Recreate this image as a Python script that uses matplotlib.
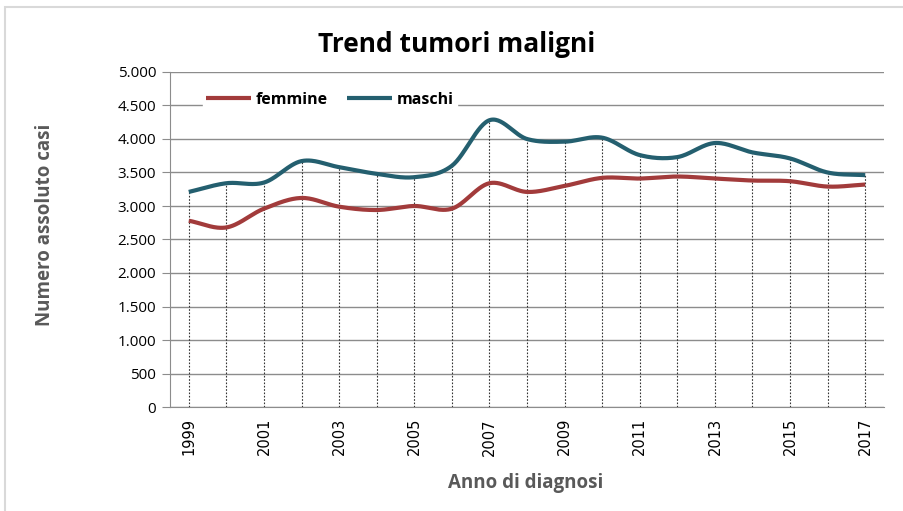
import numpy as np
import matplotlib.pyplot as plt

years = list(range(1999, 2018))
femmine = [2780, 2680, 2960, 3120, 2990, 2940, 3000, 2960, 3340, 3210,
           3300, 3420, 3410, 3440, 3410, 3380, 3370, 3290, 3320]
maschi = [3210, 3340, 3350, 3670, 3580, 3480, 3430, 3600, 4280, 4000,
          3960, 4020, 3760, 3730, 3940, 3800, 3710, 3500, 3460]

y_ticks = list(range(0, 5001, 500))
y_labels = ["0", "500", "1.000", "1.500", "2.000", "2.500", "3.000",
            "3.500", "4.000", "4.500", "5.000"]


def smooth(x, y, n=30):
    # catmull-rom curve through the points, like Excel's smoothed line
    x = np.asarray(x, float)
    y = np.asarray(y, float)
    px = np.concatenate([[2 * x[0] - x[1]], x, [2 * x[-1] - x[-2]]])
    py = np.concatenate([[2 * y[0] - y[1]], y, [2 * y[-1] - y[-2]]])
    xs, ys = [], []
    t = np.linspace(0, 1, n, endpoint=False)
    for i in range(1, len(px) - 2):
        for p, out in ((px, xs), (py, ys)):
            p0, p1, p2, p3 = p[i - 1], p[i], p[i + 1], p[i + 2]
            out.extend(0.5 * (2 * p1 + (-p0 + p2) * t
                              + (2 * p0 - 5 * p1 + 4 * p2 - p3) * t ** 2
                              + (-p0 + 3 * p1 - 3 * p2 + p3) * t ** 3))
    xs.append(x[-1])
    ys.append(y[-1])
    return xs, ys


plt.rcParams['font.family'] = ['Open Sans', 'DejaVu Sans']

fig = plt.figure(figsize=(9.04, 5.11), dpi=100)
ax = fig.add_axes([170 / 904, 1 - 407 / 511, 714 / 904, 335 / 511])

# light frame around the chart
fig.patches.append(plt.Rectangle((5 / 904, -0.1), 1.0, (511 - 7) / 511 + 0.1,
                                 transform=fig.transFigure, fill=False,
                                 edgecolor="#d9d9d9", linewidth=1.5))

for yr, f, m in zip(years, femmine, maschi):
    ax.plot([yr, yr], [0, max(f, m)], color="#333333", linestyle=(0, (1.5, 1.5)),
            linewidth=0.8, zorder=1)

fx, fy = smooth(years, femmine)
mx, my = smooth(years, maschi)
ax.plot(fx, fy, color="#A23B3B", linewidth=3, label="femmine", zorder=3,
        solid_capstyle="butt")
ax.plot(mx, my, color="#245F6F", linewidth=3, label="maschi", zorder=3,
        solid_capstyle="butt")

ax.set_xlim(1998.5, 2017.5)
ax.set_ylim(0, 5000)
ax.set_yticks(y_ticks)
ax.set_yticklabels(y_labels, fontsize=11)
ax.set_xticks(years)
ax.set_xticklabels([str(y) if (y - 1999) % 2 == 0 else "" for y in years],
                   rotation=90, fontsize=10.5, family="DejaVu Sans")
ax.yaxis.grid(True, color="#8c8c8c", linewidth=1)
ax.set_axisbelow(True)
ax.tick_params(axis="y", length=6, color="#8c8c8c", pad=4)
ax.tick_params(axis="x", length=0, pad=8)
for s in ("top", "right"):
    ax.spines[s].set_visible(False)
ax.spines["left"].set_color("#8c8c8c")
ax.spines["bottom"].set_color("#8c8c8c")

fig.text(457 / 904, 1 - 45 / 511, "Trend tumori maligni", fontsize=19,
         fontweight="bold", ha="center", va="center")
fig.text(45 / 904, 1 - 225 / 511, "Numero assoluto casi", fontsize=13.5,
         fontweight="bold", color="#595959", rotation=90, ha="center",
         va="center")
fig.text(526 / 904, 1 - 483 / 511, "Anno di diagnosi", fontsize=13.5,
         fontweight="bold", color="#595959", ha="center", va="center")

leg = ax.legend(loc="upper left", bbox_to_anchor=(0.035, 0.975), ncol=2,
                frameon=True, fancybox=False, framealpha=1, edgecolor="white",
                prop={"weight": "bold", "size": 11.5}, handlelength=2.8,
                columnspacing=1.2, handletextpad=0.3, borderpad=0.2)

fig.savefig("out.png", dpi=100)
